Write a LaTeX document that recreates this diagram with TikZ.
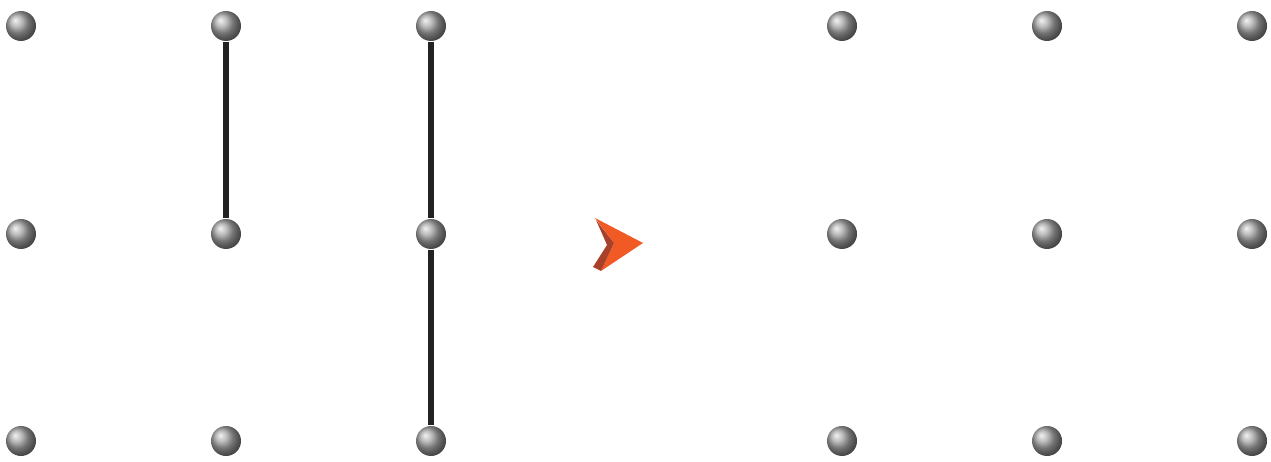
\documentclass[tikz,border=0pt]{standalone}
\usepackage{tikz}
\usetikzlibrary{positioning}

\definecolor{arroworange}{HTML}{F15A24}
\definecolor{arrowdark}{HTML}{A8402A}
\definecolor{linkgray}{HTML}{222222}

\tikzset{
  ball/.style={circle,inner sep=0pt,minimum size=0.3cm,shading=ball,ball color=gray!70},
  link/.style={draw=linkgray,line width=1.6pt}
}

\begin{document}
\begin{tikzpicture}[x=0.01cm,y=-0.01cm]
        \useasboundingbox (0,0) rectangle (1271,462);
        % left grid
        \foreach \i/\x in {0/21,1/226,2/431} {
          \foreach \j/\y in {0/26,1/234,2/441} {
            \node[ball] (l\i\j) at (\x,\y) {};
          }
        }
        % right grid
        \foreach \i/\x in {0/842,1/1047,2/1252} {
          \foreach \j/\y in {0/26,1/234,2/441} {
            \node[ball] (r\i\j) at (\x,\y) {};
          }
        }
        \draw[link] (l10) -- (l11);
        \draw[link] (l20) -- (l21);
        \draw[link] (l21) -- (l22);
        % arrow
        \coordinate (tip) at (643,243);
        \fill[arroworange] (595,218) -- (tip) -- (601,271) -- (614,243) -- cycle;
        \fill[arrowdark] (596,220) -- (614,243) -- (601,271) -- (593,267) -- (607,245) -- cycle;
      \end{tikzpicture}
\end{document}
